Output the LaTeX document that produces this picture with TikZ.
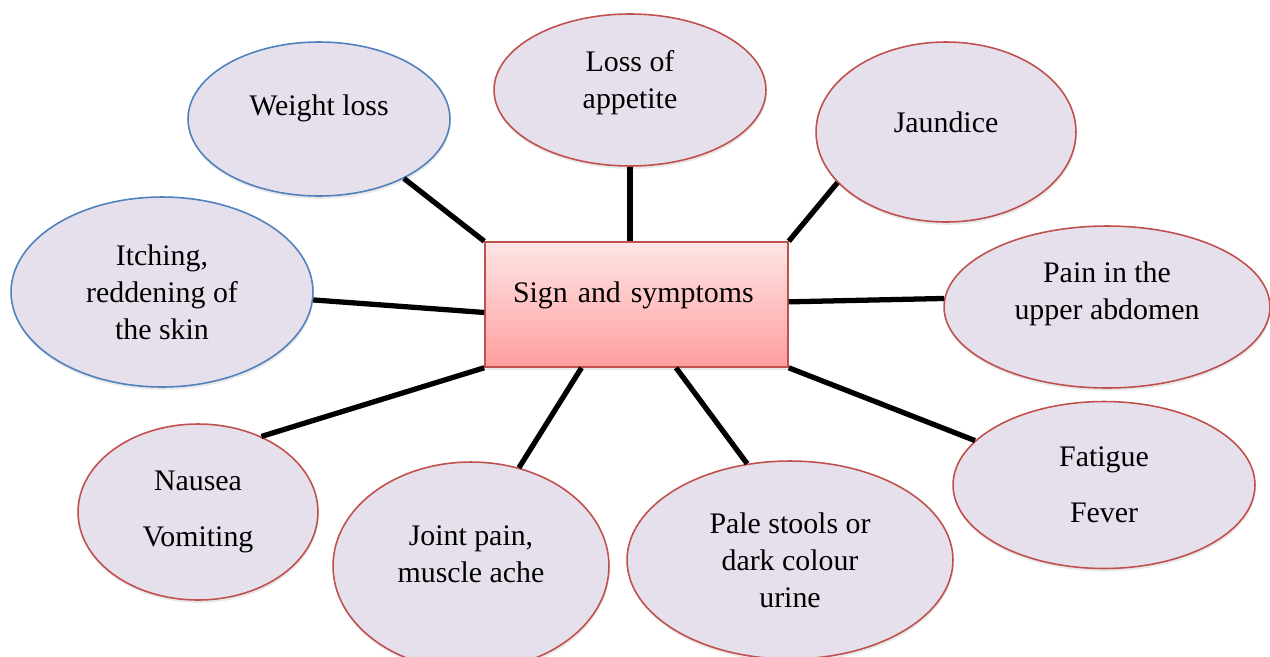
\documentclass[tikz,border=0pt]{standalone}
\usepackage{fontspec}
\setmainfont{Liberation Serif}
\usetikzlibrary{shapes.geometric,shadows}

\definecolor{bubblefill}{RGB}{230,224,236}
\definecolor{redline}{RGB}{192,80,77}
\definecolor{blueline}{RGB}{79,129,189}

\begin{document}
\begin{tikzpicture}[
  x=0.02cm, y=-0.02cm,
  font=\fontsize{17}{21}\selectfont,
  bubble/.style={ellipse, draw=redline, line width=0.9pt, fill=bubblefill, align=center, inner sep=0pt,
    drop shadow={opacity=0.18, shadow xshift=0.4pt, shadow yshift=-1.6pt}},
  bluebubble/.style={bubble, draw=blueline},
  lift/.style={text depth=#1},
  hub/.style={draw=redline, line width=0.9pt, top color=red!10, bottom color=red!38, inner sep=0pt,
    minimum width=6.06cm, minimum height=2.5cm, text width=4.94cm, align=left,
    drop shadow={opacity=0.18, shadow xshift=0.4pt, shadow yshift=-1.6pt}},
  spoke/.style={line width=3pt, black}
]
\clip (0,0) rectangle (1270,656);

\node[hub, lift=13.8pt] (box) at (636.5,304.5) {Sign and symptoms};

\node[bluebubble, minimum width=5.24cm, minimum height=3.08cm, lift=16pt] (weight) at (319,119)
  {Weight loss};
\node[bubble, minimum width=5.44cm, minimum height=3.04cm, lift=11.6pt] (appetite) at (630,90)
  {Loss of\\appetite};
\node[bubble, minimum width=5.2cm, minimum height=3.6cm, lift=11.4pt] (jaundice) at (946,132)
  {Jaundice};
\node[bluebubble, minimum width=6.04cm, minimum height=3.8cm] (itching) at (162,292)
  {Itching,\\reddening of\\the skin};
\node[bubble, minimum width=6.52cm, minimum height=3.24cm, lift=18.4pt] (pain) at (1107,307)
  {Pain in the\\upper abdomen};
\node[bubble, minimum width=4.8cm, minimum height=3.52cm] (nausea) at (198,512)
  {Nausea\\[11pt]Vomiting};
\node[bubble, minimum width=5.52cm, minimum height=4.16cm, lift=14pt] (joint) at (471,566)
  {Joint pain,\\muscle ache};
\node[bubble, minimum width=6.52cm, minimum height=3.96cm] (pale) at (790,560)
  {Pale stools or\\dark colour\\urine};
\node[bubble, minimum width=6.04cm, minimum height=3.34cm] (fatigue) at (1104,485)
  {Fatigue\\[11pt]Fever};

\draw[spoke] (weight.-35) -- (box.north west);
\draw[spoke] (appetite.south) -- (appetite.south |- box.north);
\draw[spoke] (jaundice.-155) -- (box.north east);
\draw[spoke] (itching.-3) -- (box.183);
\draw[spoke] (pain.177) -- (box.1);
\draw[spoke] (nausea.50) -- (box.south west);
\draw[spoke] (joint.64) -- (box.-131);
\draw[spoke] (pale.114) -- (box.-58);
\draw[spoke] (fatigue.161) -- (box.south east);

\end{tikzpicture}
\end{document}
